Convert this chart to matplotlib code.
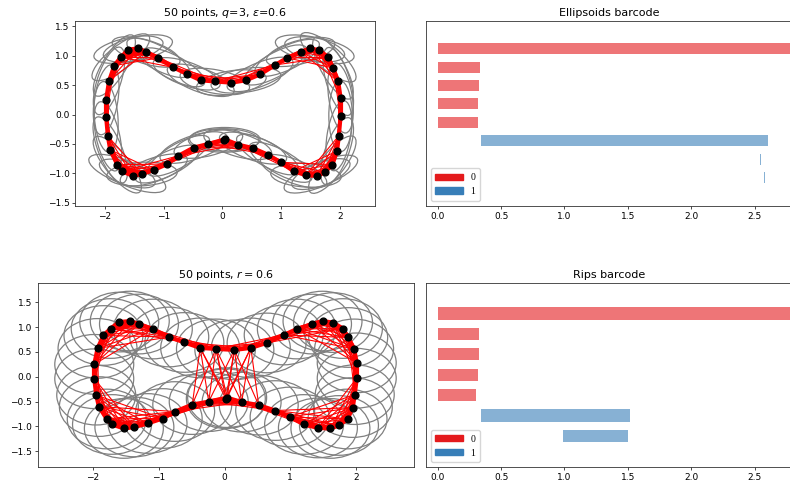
import numpy as np
import matplotlib
matplotlib.use("Agg")
import matplotlib.pyplot as plt
from matplotlib.patches import Ellipse, Circle, Patch
from matplotlib.collections import LineCollection

# 50 sample points (same cloud in both left panels)
pts_x = [-0.13, -0.37, -0.61, -0.84, -1.09, -1.30, -1.44, -1.60, -1.73, -1.84,
         -1.93, -1.98, -1.98, -1.95, -1.91, -1.79, -1.71, -1.53, -1.37, -1.17,
         -0.94, -0.75, -0.49, -0.24, 0.02, 0.04, 0.26, 0.52, 0.77, 0.99,
         1.21, 1.42, 1.61, 1.74, 1.87, 1.95, 1.98, 2.01, 2.01, 1.97,
         1.88, 1.80, 1.65, 1.49, 1.33, 1.10, 0.90, 0.64, 0.40, 0.15]
pts_y = [0.56, 0.58, 0.69, 0.80, 0.96, 1.06, 1.12, 1.10, 0.97, 0.83,
         0.57, 0.25, -0.04, -0.37, -0.60, -0.85, -0.96, -1.04, -1.01, -0.94,
         -0.84, -0.70, -0.56, -0.50, -0.44, -0.42, -0.51, -0.57, -0.68, -0.81,
         -0.96, -1.03, -1.04, -0.98, -0.85, -0.62, -0.36, -0.03, 0.28, 0.56,
         0.79, 0.97, 1.09, 1.12, 1.06, 0.96, 0.84, 0.68, 0.58, 0.54]

q = 3
eps = 0.6
r = 0.6

# barcodes (dimension, birth, death); inf = bar runs off the axis
ell_dim = [0, 0, 0, 0, 0, 1, 1, 1]
ell_birth = [0.0, 0.0, 0.0, 0.0, 0.0, 0.342, 2.545, 2.572]
ell_death = [np.inf, 0.334, 0.328, 0.320, 0.316, 2.607, 2.553, 2.581]

rips_dim = [0, 0, 0, 0, 0, 1, 1]
rips_birth = [0.0, 0.0, 0.0, 0.0, 0.0, 0.342, 0.99]
rips_death = [np.inf, 0.328, 0.328, 0.316, 0.302, 1.52, 1.505]

palette = ["#e41a1c", "#377eb8"]

P = np.column_stack([pts_x, pts_y])
n = len(P)


def ellipse_params(P, q, a):
    # orientation from PCA of each point and its q nearest neighbours
    D = np.linalg.norm(P[:, None] - P[None], axis=2)
    out = []
    for i in range(len(P)):
        nb = P[np.argsort(D[i])[:q + 1]]
        w, v = np.linalg.eigh(np.cov((nb - nb.mean(0)).T))
        t = v[:, 1]
        out.append((a, a / 3.0, np.arctan2(t[1], t[0])))
    return out


def inside(pts, c, a, b, th):
    d = pts - c
    u = d[:, 0] * np.cos(th) + d[:, 1] * np.sin(th)
    w = -d[:, 0] * np.sin(th) + d[:, 1] * np.cos(th)
    return (u / a) ** 2 + (w / b) ** 2 <= 1


def boundary(c, a, b, th, m=120):
    s = np.linspace(0, 2 * np.pi, m)
    x = a * np.cos(s)
    y = b * np.sin(s)
    return np.column_stack([c[0] + x * np.cos(th) - y * np.sin(th),
                            c[1] + x * np.sin(th) + y * np.cos(th)])


ells = ellipse_params(P, q, eps)
ell_edges = []
for i in range(n):
    for j in range(i + 1, n):
        ai, bi, ti = ells[i]
        aj, bj, tj = ells[j]
        if (inside(boundary(P[i], ai, bi, ti), P[j], aj, bj, tj).any()
                or inside(boundary(P[j], aj, bj, tj), P[i], ai, bi, ti).any()):
            ell_edges.append([P[i], P[j]])

rips_edges = []
for i in range(n):
    for j in range(i + 1, n):
        if np.linalg.norm(P[i] - P[j]) < 2 * r:
            rips_edges.append([P[i], P[j]])


def draw_edges(ax, edges):
    edges = np.array(edges)
    L = np.linalg.norm(edges[:, 0] - edges[:, 1], axis=1)
    ax.add_collection(LineCollection(edges, colors="red", linewidths=0.8))
    # short edges overlap into the thick band along the curve
    ax.add_collection(LineCollection(edges[L < 0.45], colors="red",
                                     linewidths=3.0, capstyle="round"))


plt.rcParams["axes.linewidth"] = 0.6
plt.rcParams["axes.edgecolor"] = "#333333"

fig = plt.figure(figsize=(7.9, 4.84), dpi=100)


def style(ax):
    ax.tick_params(labelsize=6.5, length=2.2, width=0.5, pad=2)
    ax.title.set_fontsize(8)


# --- ellipsoids complex
ax1 = fig.add_axes([0.0953, 0.575, 0.3794, 0.3816])
for (a, b, th), c in zip(ells, P):
    ax1.add_patch(Ellipse(c, 2 * a, 2 * b, angle=np.degrees(th),
                          fill=False, edgecolor="grey", lw=0.9))
draw_edges(ax1, ell_edges)
ax1.scatter(P[:, 0], P[:, 1], s=24, color="black", zorder=3)
ax1.set_xlim(-2.505, 2.596)
ax1.set_ylim(-1.546, 1.585)
ax1.set_xticks([-2, -1, 0, 1, 2])
ax1.set_yticks([-1.5, -1.0, -0.5, 0.0, 0.5, 1.0, 1.5])
ax1.set_title(r"50 points, $q$=3, $\varepsilon$=0.6", pad=3.5)
style(ax1)

# --- Rips complex
ax3 = fig.add_axes([0.0477, 0.0357, 0.4763, 0.380])
for c in P:
    ax3.add_patch(Circle(c, r, fill=False, edgecolor="grey", lw=0.9))
draw_edges(ax3, rips_edges)
ax3.scatter(P[:, 0], P[:, 1], s=24, color="black", zorder=3)
ax3.set_xlim(-2.84, 2.88)
ax3.set_ylim(-1.81, 1.89)
ax3.set_xticks([-2, -1, 0, 1, 2])
ax3.set_yticks([-1.5, -1.0, -0.5, 0.0, 0.5, 1.0, 1.5])
ax3.set_title(r"50 points, $r=0.6$", pad=3.5)
style(ax3)


def barcode(ax, dims, births, deaths, title, ymax):
    xmax = 2.8
    for k, (d, b, e) in enumerate(zip(dims, births, deaths)):
        e = xmax + 1 if np.isinf(e) else e
        ax.barh(k, e - b, height=0.6, left=b, color=palette[d], alpha=0.6,
                linewidth=0)
    ax.set_xlim(-0.095, xmax)
    ax.set_ylim(ymax, -1.5)
    ax.set_yticks([])
    ax.set_xticks([0.0, 0.5, 1.0, 1.5, 2.0, 2.5])
    ax.set_title(title, pad=3.5)
    ax.legend(handles=[Patch(color=palette[0], label="0"),
                       Patch(color=palette[1], label="1")],
              loc="lower left", prop={"family": "Liberation Serif", "size": 7},
              handlelength=2.8, handleheight=0.6, borderpad=0.5,
              labelspacing=0.5, fancybox=True)
    style(ax)


ax2 = fig.add_axes([0.5389, 0.575, 0.4643, 0.3816])
barcode(ax2, ell_dim, ell_birth, ell_death, "Ellipsoids barcode", 8.53)
ax4 = fig.add_axes([0.5389, 0.0345, 0.4643, 0.3814])
barcode(ax4, rips_dim, rips_birth, rips_death, "Rips barcode", 7.53)

fig.savefig("out.png", dpi=100)
